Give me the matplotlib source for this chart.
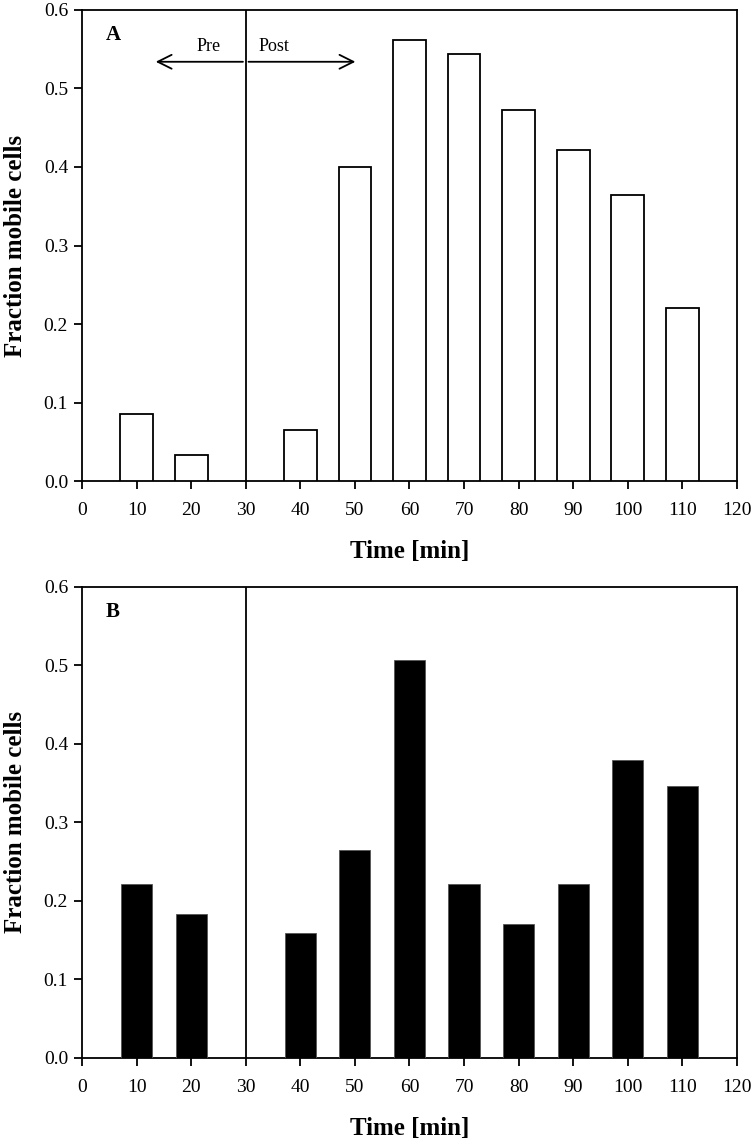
import matplotlib
matplotlib.use("Agg")
import matplotlib.pyplot as plt

plt.rcParams['font.family'] = ['Liberation Serif', 'DejaVu Serif']

times = [10, 20, 40, 50, 60, 70, 80, 90, 100, 110]
frac_a = [0.085, 0.033, 0.065, 0.400, 0.562, 0.544, 0.472, 0.422, 0.364, 0.221]
frac_b = [0.222, 0.184, 0.159, 0.265, 0.507, 0.222, 0.171, 0.222, 0.379, 0.346]
xticks = list(range(0, 121, 10))
yticks = [0.0, 0.1, 0.2, 0.3, 0.4, 0.5, 0.6]

fig = plt.figure(figsize=(7.55, 11.44), dpi=100)
axA = fig.add_axes([0.1086, 0.5795, 0.8675, 0.4118])
axB = fig.add_axes([0.1086, 0.0752, 0.8675, 0.4118])

axA.bar(times, frac_a, width=6, color='white', edgecolor='black', linewidth=1.3, zorder=3)
axB.bar(times, frac_b, width=5.7, color='black', edgecolor='#555555', linewidth=0.6, zorder=3)

for ax, lab in [(axA, 'A'), (axB, 'B')]:
    ax.set_xlim(0, 120)
    ax.set_ylim(0, 0.6)
    ax.set_xticks(xticks)
    ax.set_yticks(yticks)
    ax.set_yticklabels([f"{v:.1f}" for v in yticks])
    ax.tick_params(axis='both', direction='out', length=6, width=1.3, labelsize=14,
                   top=False, right=False)
    ax.tick_params(axis='x', pad=9)
    ax.tick_params(axis='y', pad=4)
    for s in ax.spines.values():
        s.set_linewidth(1.3)
    ax.axvline(30, color='black', linewidth=1.3, zorder=4)
    ax.set_xlabel('Time [min]', fontsize=18, fontweight='bold', labelpad=15)
    ax.set_ylabel('Fraction mobile cells', fontsize=18, fontweight='bold', labelpad=12)
    ax.text(5.7, 0.568, lab, fontsize=15, fontweight='bold', va='center', ha='center')

axA.annotate('', xy=(13, 0.534), xytext=(30, 0.534),
             arrowprops=dict(arrowstyle='->', color='black', lw=1.3, mutation_scale=25))
axA.annotate('', xy=(50.6, 0.534), xytext=(30, 0.534),
             arrowprops=dict(arrowstyle='->', color='black', lw=1.3, mutation_scale=25))
axA.text(23.2, 0.553, 'Pre', fontsize=13, ha='center', va='center')
axA.text(32.3, 0.553, 'Post', fontsize=13, ha='left', va='center')

fig.savefig('out.png', dpi=100)
